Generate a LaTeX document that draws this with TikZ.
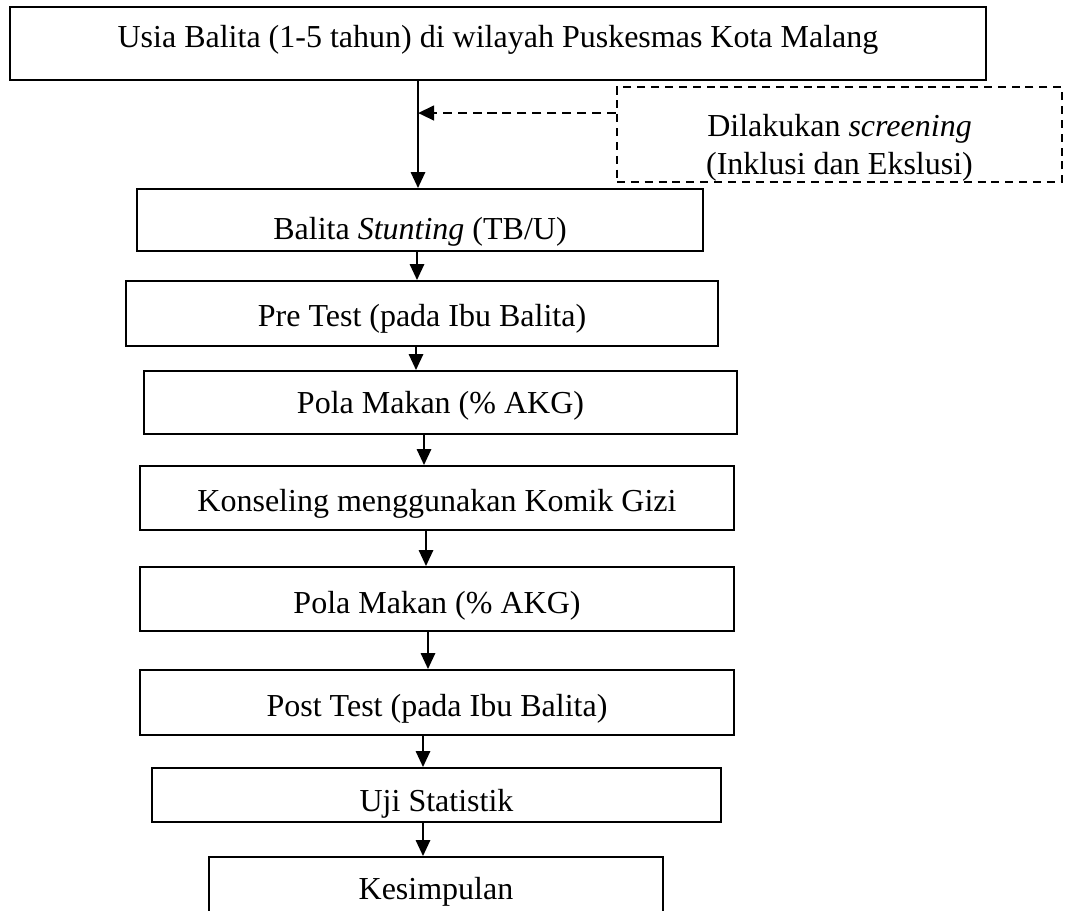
\documentclass[tikz,border=0pt]{standalone}
\usepackage{fontspec}
\setmainfont{Liberation Serif}
\usetikzlibrary{arrows.meta, positioning}
\tikzset{
  box/.style={draw, line width=0.75pt, inner sep=0pt},
  dbox/.style={box, dash pattern=on 3pt off 2.2pt},
  txt/.style={anchor=base, inner sep=0pt, font=\fontsize{12}{14}\selectfont},
  arr/.style={line width=0.75pt, -{Triangle[width=5.4pt,length=6pt]}},
  darr/.style={arr, line width=1.1pt, dash pattern=on 3.4pt off 2.2pt}
}
\begin{document}
\begin{tikzpicture}[x=0.375pt, y=-0.375pt]
\clip (0,0) rectangle (1067,910);

\foreach \n/\xa/\ya/\xb/\yb in {
    b1/10/7/986/80, b2/137/189/703/251, b3/126/281/718/346,
    b4/144/371/737/434, b5/140/466/734/530, b6/140/567/734/631,
    b7/140/670/734/735, b8/152/768/721/822, b9/209/857/663/930}
    \node[box, minimum width={(\xb-\xa)*0.375pt}, minimum height={(\yb-\ya)*0.375pt}]
      (\n) at ({(\xa+\xb)/2},{(\ya+\yb)/2}) {};

\node[dbox, minimum width={445*0.375pt}, minimum height={95*0.375pt}] (sc) at (839.5,134.5) {};

\node[txt] (t1) at (b1.center |- 0,47) {Usia Balita (1-5 tahun) di wilayah Puskesmas Kota Malang};
\node[txt] (t2) at (b2.center |- 0,239) {Balita \textit{Stunting} (TB/U)};
\node[txt] (t3) at (b3.center |- 0,326) {Pre Test (pada Ibu Balita)};
\node[txt] (t4) at (b4.center |- 0,413) {Pola Makan (\% AKG)};
\node[txt] (t5) at (b5.center |- 0,511) {Konseling menggunakan Komik Gizi};
\node[txt] (t6) at (b6.center |- 0,613) {Pola Makan (\% AKG)};
\node[txt] (t7) at (b7.center |- 0,716) {Post Test (pada Ibu Balita)};
\node[txt] (t8) at (b8.center |- 0,811) {Uji Statistik};
\node[txt] (t9) at (b9.center |- 0,899) {Kesimpulan};
\node[txt] (s1) at (sc.center |- 0,136) {Dilakukan \textit{screening}};
\node[txt] (s2) at (sc.center |- 0,174) {(Inklusi dan Ekslusi)};

\foreach \a/\b/\x in {
    b1/b2/418, b2/b3/417, b3/b4/416, b4/b5/424,
    b5/b6/426, b6/b7/428, b7/b8/423, b8/b9/423}
    \draw[arr] (\a.south -| \x,0) -- (\b.north -| \x,0);

\coordinate (hit) at (418,113);
\draw[darr] (sc.west |- hit) -- (hit);

\end{tikzpicture}
\end{document}
